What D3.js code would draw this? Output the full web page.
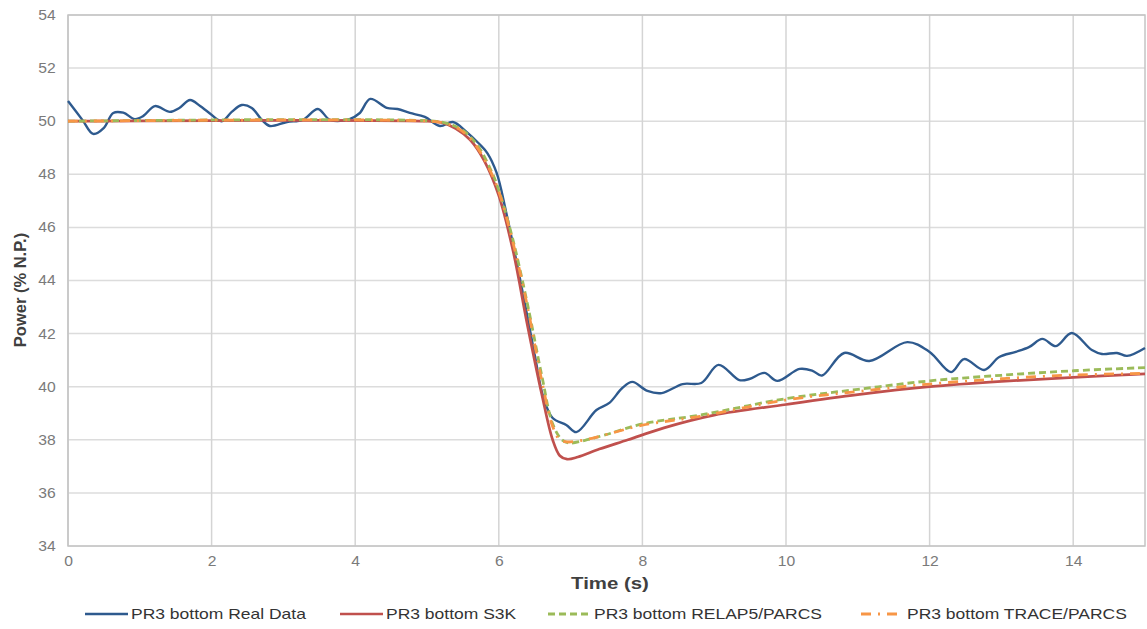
<!DOCTYPE html>
<html>
<head>
<meta charset="utf-8">
<script src="https://cdn.jsdelivr.net/npm/d3@7"></script>
<style>
  body { margin: 0; background: #fff; }
  svg { font-family: "Liberation Sans", Arial, sans-serif; }
</style>
</head>
<body>
<div id="chart"></div>
<script>
// Real data (measured)
const realTime = [0, 0.2, 0.35, 0.5, 0.63, 0.77, 0.93, 1.05, 1.21, 1.42, 1.55, 1.7, 1.84, 1.95, 2.14, 2.28, 2.42, 2.56, 2.7, 2.81, 3.05, 3.27, 3.48, 3.65, 3.92, 4.06, 4.21, 4.44, 4.59, 4.76, 4.97, 5.18, 5.36, 5.55, 5.73, 5.84, 5.97, 6.1, 6.3, 6.5, 6.62, 6.75, 6.94, 7.08, 7.36, 7.54, 7.72, 7.86, 8.07, 8.27, 8.56, 8.82, 9.06, 9.35, 9.49, 9.7, 9.88, 10.19, 10.37, 10.5, 10.81, 11.16, 11.69, 12.0, 12.3, 12.48, 12.76, 12.97, 13.2, 13.39, 13.57, 13.76, 13.98, 14.26, 14.4, 14.61, 14.75, 15.0];
const realPower = [50.76, 50.05, 49.52, 49.75, 50.31, 50.32, 50.08, 50.2, 50.57, 50.35, 50.5, 50.8, 50.57, 50.35, 50.0, 50.35, 50.61, 50.5, 50.05, 49.82, 49.97, 50.05, 50.46, 50.05, 50.08, 50.3, 50.84, 50.5, 50.46, 50.31, 50.16, 49.82, 49.97, 49.6, 49.14, 48.8, 48.05, 46.6, 44.0, 41.2, 39.6, 38.82, 38.56, 38.29, 39.12, 39.39, 39.95, 40.18, 39.84, 39.76, 40.1, 40.14, 40.82, 40.25, 40.29, 40.52, 40.22, 40.67, 40.6, 40.42, 41.27, 40.97, 41.68, 41.31, 40.55, 41.04, 40.63, 41.12, 41.31, 41.5, 41.8, 41.53, 42.02, 41.38, 41.23, 41.27, 41.16, 41.46];

// S3K
const s3kTime = [0, 5.0, 5.2, 5.4, 5.6, 5.8, 6.0, 6.2, 6.4, 6.6, 6.75, 6.85, 6.95, 7.1, 7.4, 7.8, 8.3, 9, 10, 11, 12, 13, 14, 15];
const s3kPower = [50, 50, 49.95, 49.72, 49.3, 48.5, 47.2, 45.1, 42.3, 39.7, 38.0, 37.4, 37.27, 37.35, 37.65, 38.0, 38.45, 38.93, 39.33, 39.7, 40.0, 40.2, 40.35, 40.48];

// RELAP5/PARCS
const relapTime = [0, 5.1, 5.3, 5.5, 5.7, 5.9, 6.0, 6.2, 6.4, 6.6, 6.75, 6.88, 6.98, 7.2, 7.5, 8, 8.8, 10, 11, 12, 13, 14, 15];
const relapPower = [50, 50, 49.9, 49.65, 49.1, 48.1, 47.4, 45.5, 43.1, 40.4, 38.6, 38.0, 37.88, 37.98, 38.2, 38.6, 38.93, 39.55, 39.9, 40.22, 40.43, 40.6, 40.72];

// TRACE/PARCS
const traceTime = [0, 5.05, 5.25, 5.45, 5.65, 5.85, 6.0, 6.2, 6.4, 6.6, 6.75, 6.85, 6.95, 7.2, 7.5, 8, 8.8, 10, 11, 12, 13, 14, 15];
const tracePower = [50, 50, 49.92, 49.7, 49.2, 48.3, 47.35, 45.4, 43.0, 40.2, 38.5, 38.0, 37.92, 38.0, 38.2, 38.55, 38.88, 39.5, 39.82, 40.1, 40.3, 40.44, 40.5];

const xTicks = [0, 2, 4, 6, 8, 10, 12, 14];
const yTicks = [34, 36, 38, 40, 42, 44, 46, 48, 50, 52, 54];

const seriesNames = ["PR3 bottom Real Data", "PR3 bottom S3K", "PR3 bottom RELAP5/PARCS", "PR3 bottom TRACE/PARCS"];

const zip = (ts, vs) => ts.map((t, i) => ({ t: t, v: vs[i] }));
const series = [
    { name: seriesNames[0], data: zip(realTime, realPower), color: "#2e5a8e", dash: null, width: 2.4, legendX: 85 },
    { name: seriesNames[1], data: zip(s3kTime, s3kPower), color: "#c0504d", dash: null, width: 2.7, legendX: 340 },
    { name: seriesNames[2], data: zip(relapTime, relapPower), color: "#9bbb59", dash: "7,4", width: 2.8, legendX: 548 },
    { name: seriesNames[3], data: zip(traceTime, tracePower), color: "#f79646", dash: "10,7,2,7", width: 2.8, legendX: 861 }
];

const width = 1147;
const height = 629;
const margin = { top: 15, right: 1, bottom: 83, left: 68 };
const innerWidth = width - margin.left - margin.right;
const innerHeight = height - margin.top - margin.bottom;

const xScale = d3.scaleLinear().domain([0, 15]).range([0, innerWidth - 1]);
const yScale = d3.scaleLinear().domain([34, 54]).range([innerHeight, 0]);

const svg = d3.select("#chart")
    .append("svg")
    .attr("width", width)
    .attr("height", height);

const inner = svg.append("g")
    .attr("transform", `translate(${margin.left},${margin.top})`);

// Gridlines
inner.append("g")
    .selectAll("line")
    .data(yTicks)
    .join("line")
    .attr("x1", 0)
    .attr("x2", xScale(15))
    .attr("y1", d => yScale(d))
    .attr("y2", d => yScale(d))
    .attr("stroke", "#dcdcdc")
    .attr("stroke-width", 1.5);

inner.append("g")
    .selectAll("line")
    .data(xTicks)
    .join("line")
    .attr("x1", d => xScale(d))
    .attr("x2", d => xScale(d))
    .attr("y1", 0)
    .attr("y2", innerHeight)
    .attr("stroke", "#d4d4d4")
    .attr("stroke-width", 1.5);

// Plot border
inner.append("rect")
    .attr("x", 0)
    .attr("y", 0)
    .attr("width", xScale(15))
    .attr("height", innerHeight)
    .attr("fill", "none")
    .attr("stroke", "#c4c4c4")
    .attr("stroke-width", 1.5);

// Axes (labels only, the lines come from the border)
const bottomAxis = d3.axisBottom(xScale).tickValues(xTicks).tickSize(0).tickPadding(10);
const leftAxis = d3.axisLeft(yScale).tickValues(yTicks).tickSize(0).tickPadding(11);

const gx = inner.append("g")
    .attr("transform", `translate(0,${innerHeight})`)
    .call(bottomAxis);
const gy = inner.append("g").call(leftAxis);

// the source picture is a bit wider than tall, so text gets a small horizontal stretch
[gx, gy].forEach(g => {
    g.select(".domain").remove();
    g.selectAll("text")
        .attr("fill", "#7a7a7a")
        .attr("transform", "scale(1.12,1)")
        .style("font-size", "14px");
});

// Lines
const lineGenerator = d3.line()
    .x(d => xScale(d.t))
    .y(d => yScale(d.v))
    .curve(d3.curveCatmullRom.alpha(0.5));

series.forEach(s => {
    inner.append("path")
        .datum(s.data)
        .attr("d", lineGenerator)
        .attr("fill", "none")
        .attr("stroke", s.color)
        .attr("stroke-width", s.width)
        .attr("stroke-dasharray", s.dash)
        .attr("stroke-linejoin", "round");
});

// Axis titles
svg.append("text")
    .text("Time (s)")
    .attr("transform", "translate(610,589) scale(1.2,1)")
    .attr("text-anchor", "middle")
    .attr("fill", "#404040")
    .style("font-size", "17px")
    .style("font-weight", "bold");

svg.append("text")
    .text("Power (% N.P.)")
    .attr("transform", "translate(26,290) rotate(-90)")
    .attr("text-anchor", "middle")
    .attr("fill", "#404040")
    .style("font-size", "16.5px")
    .style("font-weight", "bold");

// Legend
const legend = svg.append("g").attr("transform", "translate(0,614)");
series.forEach(s => {
    legend.append("line")
        .attr("x1", s.legendX)
        .attr("x2", s.legendX + 43)
        .attr("y1", 0)
        .attr("y2", 0)
        .attr("stroke", s.color)
        .attr("stroke-width", s.width)
        .attr("stroke-dasharray", s.dash);
    legend.append("text")
        .text(s.name)
        .attr("transform", `translate(${s.legendX + 46},5) scale(1.25,1)`)
        .attr("fill", "#333333")
        .style("font-size", "14px");
});
</script>
</body>
</html>
